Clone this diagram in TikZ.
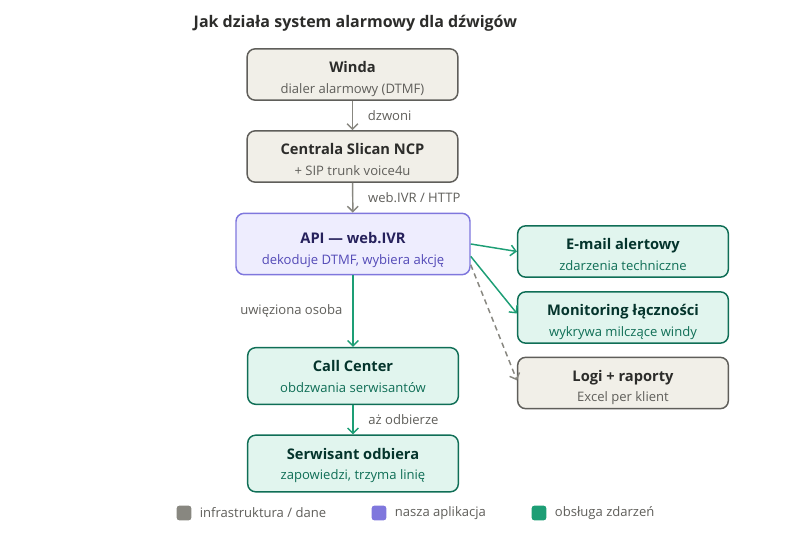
\documentclass[tikz,border=0pt]{standalone}
\usepackage{fontspec}
\setmainfont{Open Sans}
\usetikzlibrary{arrows.meta, positioning, calc}

\definecolor{infrafill}{HTML}{F1EFE8}
\definecolor{infraline}{HTML}{5F5E5A}
\definecolor{infratitle}{HTML}{2C2C2A}
\definecolor{infrasub}{HTML}{5F5E5A}
\definecolor{appfill}{HTML}{EEEDFE}
\definecolor{appline}{HTML}{7F77DD}
\definecolor{apptitle}{HTML}{26215C}
\definecolor{appsub}{HTML}{534AB7}
\definecolor{evfill}{HTML}{E1F5EE}
\definecolor{evline}{HTML}{0F6E56}
\definecolor{evtitle}{HTML}{04342C}
\definecolor{evsub}{HTML}{0F6E56}
\definecolor{flowgray}{HTML}{888780}
\definecolor{flowgreen}{HTML}{1D9E75}
\newcommand{\boxtitle}{\fontsize{11}{13}\selectfont\bfseries}
% title + subtitle, lowered a little inside the box
\newcommand{\boxtext}[4][4pt]{\raisebox{-#1}[\height][\depth]{\begin{tabular}{@{}c@{}}{\boxtitle\color{#2}#3}\\[3.4pt]#4\end{tabular}}}

\begin{document}
\begin{tikzpicture}[x=0.75pt, y=-0.75pt,
  box/.style={rounded corners=6pt, line width=1.1pt, minimum width=158pt, minimum height=38.5pt, inner sep=2pt, font=\fontsize{9.8}{12}\selectfont},
  infra/.style={box, draw=infraline, fill=infrafill, text=infrasub},
  app/.style={box, draw=appline, fill=appfill, text=appsub, minimum width=175.5pt, minimum height=46pt},
  event/.style={box, draw=evline, fill=evfill, text=evsub},
  grayflow/.style={draw=flowgray, line width=1.1pt, -{Straight Barb[length=4pt, width=8pt, line width=1.1pt]}},
  greenflow/.style={grayflow, draw=flowgreen},
  dashflow/.style={grayflow, dashed, dash pattern=on 4pt off 3pt},
  lbl/.style={text=infrasub, font=\fontsize{9.8}{12}\selectfont, inner sep=0pt},
  key/.style={rounded corners=2pt, minimum size=11pt, inner sep=0pt}
]
  \useasboundingbox (0,0) rectangle (800,534);

  \node[anchor=west, text=infratitle, font=\fontsize{12}{14}\selectfont\bfseries] (title) at (189,23) {Jak działa system alarmowy dla dźwigów};

  % main column
  \node[infra] (winda) at (352.5,74.5) {\boxtext{infratitle}{Winda}{dialer alarmowy (DTMF)}};
  \node[infra] (centrala) at (352.5,156.5) {\boxtext{infratitle}{Centrala Slican NCP}{+ SIP trunk voice4u}};
  \node[app] (api) at (353,244) {\boxtext[5pt]{apptitle}{API — web.IVR}{dekoduje DTMF, wybiera akcję}};
  \node[event, minimum height=42.5pt] (callcenter) at (353,376) {\boxtext[2.25pt]{evtitle}{Call Center}{obdzwania serwisantów}};
  \node[event, minimum height=42.5pt] (serwisant) at (353,463.5) {\boxtext[2.25pt]{evtitle}{Serwisant odbiera}{zapowiedzi, trzyma linię}};

  % side column
  \node[event] (email) at (623,251.5) {\boxtext{evtitle}{E-mail alertowy}{zdarzenia techniczne}};
  \node[event] (monitoring) at (623,317.5) {\boxtext{evtitle}{Monitoring łączności}{wykrywa milczące windy}};
  \node[infra] (logi) at (623,383) {\boxtext{infratitle}{Logi + raporty}{Excel per klient}};

  % connections
  \draw[grayflow] (winda) -- node[lbl, right=11pt] {dzwoni} (centrala);
  \draw[grayflow] (centrala) -- node[lbl, right=11pt] {web.IVR / HTTP} (api);
  \draw[greenflow] (api) -- node[lbl, left=7.5pt] {uwięziona osoba} (callcenter);
  \draw[greenflow] (callcenter) -- node[lbl, right=11pt] {aż odbierze} (serwisant);
  \draw[greenflow] (api.east) -- (email.west);
  \draw[greenflow] (api.-6) -- ([yshift=3pt]monitoring.west);
  \draw[dashflow] (api.-10) -- ([yshift=2pt]logi.west);

  % legend
  \node[key, fill=flowgray] (k1) at (184,513) {};
  \node[lbl, right=6pt of k1] (l1) {infrastruktura / dane};
  \node[key, fill=appline] (k2) at (379,513) {};
  \node[lbl, right=6pt of k2] (l2) {nasza aplikacja};
  \node[key, fill=flowgreen] (k3) at (539,513) {};
  \node[lbl, right=6pt of k3] (l3) {obsługa zdarzeń};
\end{tikzpicture}
\end{document}
